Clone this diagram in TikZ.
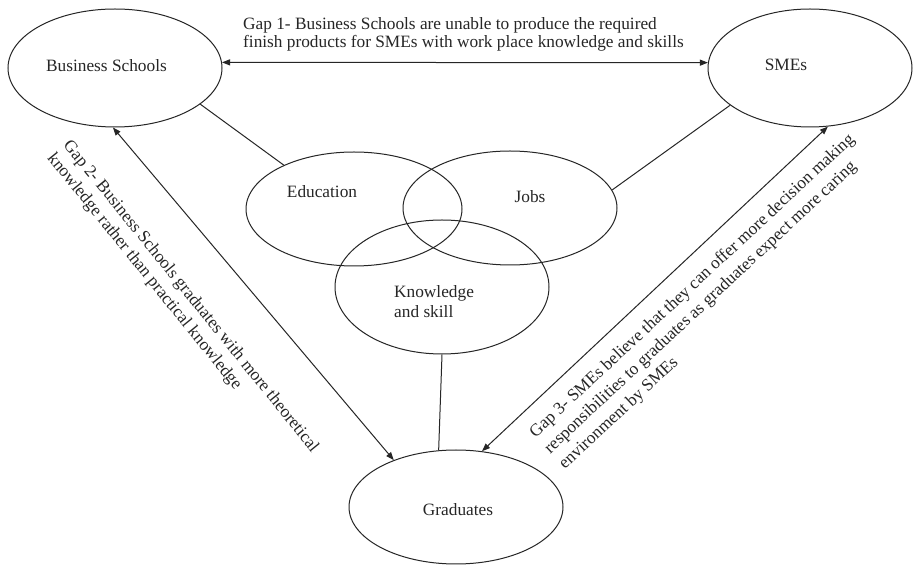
\documentclass[tikz,border=0pt]{standalone}
\usepackage{fontspec}
\setmainfont{Liberation Serif}
\usetikzlibrary{shapes.geometric,arrows.meta}
\tikzset{
  oval/.style={ellipse, draw=black!85, line width=1pt, inner sep=0pt},
  lbl/.style={inner sep=0pt, text=black!85, font=\fontsize{17.3}{20}\selectfont},
  gaptext/.style={inner sep=0pt, text=black!85, align=left, anchor=north west},
  link/.style={draw=black!85, line width=1pt},
  gaparrow/.style={draw=black!85, line width=1pt, {Triangle[length=8pt,width=6pt]}-{Triangle[length=8pt,width=6pt]}}
}
\begin{document}
\begin{tikzpicture}[x=1pt,y=1pt]
\useasboundingbox (0,0) rectangle (916,565);
\fill[white] (0,0) rectangle (916,565);
% ellipses
\node[oval, minimum width=214pt, minimum height=118pt] (bs) at (115,497) {};
\node[oval, minimum width=204pt, minimum height=118pt] (sme) at (810,497) {};
\node[oval, minimum width=216pt, minimum height=114pt] (edu) at (354,356) {};
\node[oval, minimum width=214pt, minimum height=114pt] (jobs) at (510,357) {};
\node[oval, minimum width=214pt, minimum height=134pt] (know) at (442,278) {};
\node[oval, minimum width=214pt, minimum height=114pt] (grad) at (456,58) {};
% labels
\node[lbl] (bst) at (106.5,499) {Business Schools};
\node[lbl] (smet) at (786,500) {SMEs};
\node[lbl] (edut) at (322,373.5) {Education};
\node[lbl] (jobst) at (530,368.5) {Jobs};
\node[lbl, align=left, anchor=north west] (knowt) at (394,280) {Knowledge\\and skill};
\node[lbl] (gradt) at (458,55) {Graduates};
% connectors
\draw[link] (bs.-23.5) -- (edu.148.6);
\draw[link] (sme.-155.8) -- (jobs.10.5);
\draw[link] (know.south) -- (grad.107.8);
% gap arrows
\draw[gaparrow] (bs.3) -- (sme.177);
\draw[gaparrow] (bs.-92) -- (grad.143);
\draw[gaparrow] (sme.-73) -- (grad.65);
% gap texts
\node[gaptext, font=\fontsize{17.3}{18.5}\selectfont] (g1) at (243,547.8)
  {Gap 1- Business Schools are unable to produce the required\\finish products for SMEs with work place knowledge and skills};
\node[gaptext, rotate=-51, font=\fontsize{17.3}{20.5}\selectfont] (g2) at (72.2,427.4)
  {Gap 2- Business Schools graduates with more theoretical\\knowledge rather than practical knowledge};
\node[gaptext, rotate=43, font=\fontsize{17.3}{21.5}\selectfont] (g3) at (527,135.6)
  {Gap 3- SMEs believe that they can offer more decision making\\responsibilities to graduates as graduates expect more caring\\environment by SMEs};
\end{tikzpicture}
\end{document}
